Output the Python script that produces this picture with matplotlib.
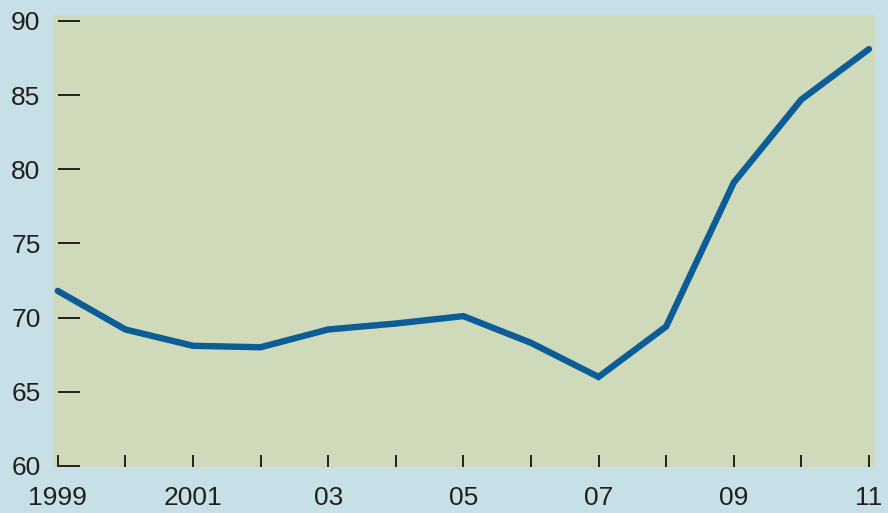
# Line chart: index, 1999-2011

import matplotlib
matplotlib.use('Agg')
import matplotlib.pyplot as plt

# Data
years = [1999, 2000, 2001, 2002, 2003, 2004, 2005, 2006, 2007, 2008, 2009, 2010, 2011]
values = [71.8, 69.2, 68.1, 68.0, 69.2, 69.6, 70.1, 68.3, 66.0, 69.4, 79.1, 84.7, 88.1]

# Tick labels
x_ticks = years
x_labels = ['1999', '', '2001', '', '03', '', '05', '', '07', '', '09', '', '11']
y_ticks = [60, 65, 70, 75, 80, 85, 90]

plt.rcParams['font.family'] = ['Liberation Sans', 'DejaVu Sans']

fig = plt.figure(figsize=(8.88, 5.13), dpi=100)
fig.patch.set_facecolor('#c7e0e7')
ax = fig.add_axes([0.0597, 0.0897, 0.9257, 0.8811])
ax.set_facecolor('#cfdabb')

ax.plot(years, values, color='#0b5c97', linewidth=4.6, solid_capstyle='round',
        solid_joinstyle='miter', zorder=3, clip_on=False)

ax.set_xlim(1998.93, 2011.09)
ax.set_ylim(59.93, 90.4)

# Custom ticks that start at the first year / bottom value, like the original
ax.hlines(y_ticks, 1999, 1999.33, color='#231f20', linewidth=1.4, zorder=2)
ax.vlines(x_ticks, 59.93, 60.75, color='#231f20', linewidth=1.4, zorder=2)

ax.set_xticks(x_ticks)
ax.set_xticklabels(x_labels)
ax.set_yticks(y_ticks)
ax.tick_params(axis='both', length=0, labelsize=19, colors='#231f20')
ax.tick_params(axis='y', pad=9)
ax.tick_params(axis='x', pad=14)

for s in ax.spines.values():
    s.set_visible(False)

plt.savefig('out.png', dpi=100, facecolor=fig.get_facecolor())
